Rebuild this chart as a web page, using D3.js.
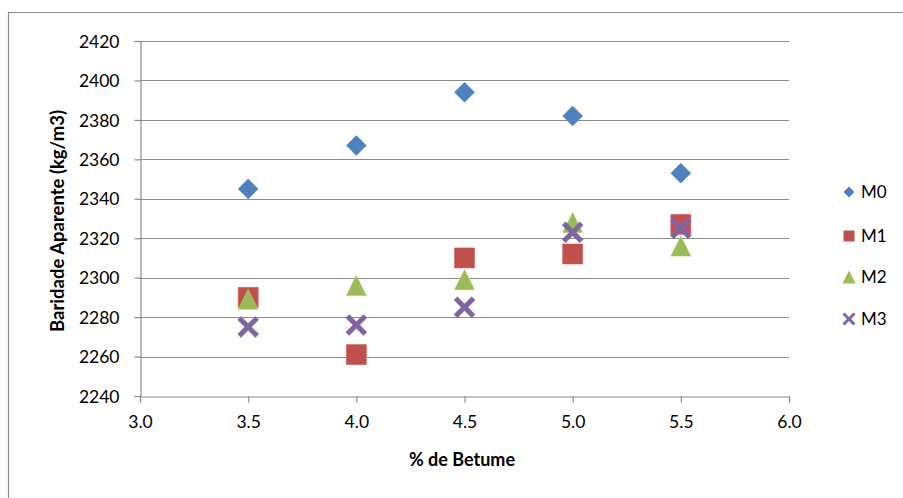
<!DOCTYPE html>
<html>
<head>
<meta charset="utf-8">
<script src="https://cdn.jsdelivr.net/npm/d3@7"></script>
<style>
  html, body { margin: 0; padding: 0; background: #fff; }
  svg { display: block; }
  text { font-family: Lato, "Open Sans", sans-serif; fill: #000; }
</style>
</head>
<body>
<svg id="chart" width="903" height="498"></svg>
<script>
// Bitumen content (%) tested for each mix
const betume = [3.5, 4.0, 4.5, 5.0, 5.5];
// Apparent bulk density (kg/m3) per mix
const m0 = [2345, 2367, 2394, 2382, 2353];
const m1 = [2290, 2261, 2310, 2312, 2327];
const m2 = [2289, 2296, 2299, 2328, 2316];
const m3 = [2275, 2276, 2285, 2323, 2325];
const seriesNames = ["M0", "M1", "M2", "M3"];
const xTicks = [3.0, 3.5, 4.0, 4.5, 5.0, 5.5, 6.0];
const yTicks = [2240, 2260, 2280, 2300, 2320, 2340, 2360, 2380, 2400, 2420];

const series = [
  { name: seriesNames[0], values: m0, color: "#4F81BD", shape: "diamond" },
  { name: seriesNames[1], values: m1, color: "#C0504D", shape: "square" },
  { name: seriesNames[2], values: m2, color: "#9BBB59", shape: "triangle" },
  { name: seriesNames[3], values: m3, color: "#8064A2", shape: "x" }
];

const svg = d3.select("#chart");
const plot = { left: 140, right: 789, top: 41, bottom: 396 };

const x = d3.scaleLinear().domain([3.0, 6.0]).range([plot.left, plot.right]);
const y = d3.scaleLinear().domain([2240, 2420]).range([plot.bottom, plot.top]);

// Outer chart frame (top and left edges)
svg.append("path")
  .attr("d", "M8.5,498 L8.5,12.5 L903,12.5")
  .attr("fill", "none").attr("stroke", "#8c8c8c").attr("stroke-width", 1.2);

const gridColor = "#8c8c8c";

// Horizontal gridlines
svg.append("g").selectAll("line").data(yTicks.slice(1)).join("line")
  .attr("x1", plot.left).attr("x2", plot.right)
  .attr("y1", d => Math.round(y(d)) + 0.5).attr("y2", d => Math.round(y(d)) + 0.5)
  .attr("stroke", gridColor).attr("stroke-width", 1.2);

// Y axis
const yAxis = svg.append("g")
  .attr("transform", `translate(${plot.left + 0.5},0)`)
  .call(d3.axisLeft(y).tickValues(yTicks).tickFormat(d3.format("d")).tickSize(6).tickPadding(15));
// X axis
const xAxis = svg.append("g")
  .attr("transform", `translate(0,${Math.round(plot.bottom) + 0.5})`)
  .call(d3.axisBottom(x).tickValues(xTicks).tickFormat(d3.format(".1f")).tickSize(6).tickPadding(11));

[yAxis, xAxis].forEach(ax => {
  ax.select(".domain").attr("stroke", gridColor).attr("stroke-width", 1.2);
  ax.selectAll(".tick line").attr("stroke", gridColor).attr("stroke-width", 1.2);
  ax.selectAll(".tick text").style("font-size", "17.5px").attr("fill", "#000")
    .style("font-family", "Lato, 'Open Sans', sans-serif");
});
yAxis.selectAll(".tick text").attr("dy", "0.35em");
xAxis.selectAll(".tick text").attr("dy", "0.8em");

// Axis titles
svg.append("text")
  .attr("x", 462).attr("y", 466)
  .attr("text-anchor", "middle")
  .style("font-size", "18px").style("font-weight", "bold")
  .text("% de Betume");
svg.append("text")
  .attr("transform", `translate(64,221) rotate(-90)`)
  .attr("text-anchor", "middle")
  .style("font-size", "18.5px").style("font-weight", "bold")
  .text("Baridade Aparente (kg/m3)");

// Marker path generators (centered at 0,0)
function markerPath(shape, s) {
  const h = s / 2;
  switch (shape) {
    case "diamond": return `M0,${-h}L${h},0L0,${h}L${-h},0Z`;
    case "square": return `M${-h},${-h}H${h}V${h}H${-h}Z`;
    case "triangle": return `M0,${-h}L${h},${h}L${-h},${h}Z`;
    case "x": {
      const t = s * 0.16;
      return `M${-h},${-h + t}L${-h + t},${-h}L0,${-t}L${h - t},${-h}L${h},${-h + t}L${t},0` +
             `L${h},${h - t}L${h - t},${h}L0,${t}L${-h + t},${h}L${-h},${h - t}L${-t},0Z`;
    }
  }
}

// Data points
series.forEach(s => {
  const size = s.shape === "x" ? 21 : 20;
  svg.append("g").selectAll("path").data(s.values).join("path")
    .attr("transform", (d, i) => `translate(${x(betume[i])},${y(d)})`)
    .attr("d", markerPath(s.shape, size))
    .attr("fill", s.color)
    .attr("stroke", d3.color(s.color).brighter(0.3)).attr("stroke-width", 0.6);
});

// Legend
const legendY = [192, 236, 277, 319];
const legend = svg.append("g");
series.forEach((s, i) => {
  const size = s.shape === "triangle" ? 13 : (s.shape === "x" ? 13 : 11);
  legend.append("path")
    .attr("transform", `translate(849,${legendY[i]})`)
    .attr("d", markerPath(s.shape, size))
    .attr("fill", s.color);
  legend.append("text")
    .attr("x", 861).attr("y", legendY[i]).attr("dy", "0.35em")
    .style("font-size", "17px")
    .text(s.name);
});
</script>
</body>
</html>
